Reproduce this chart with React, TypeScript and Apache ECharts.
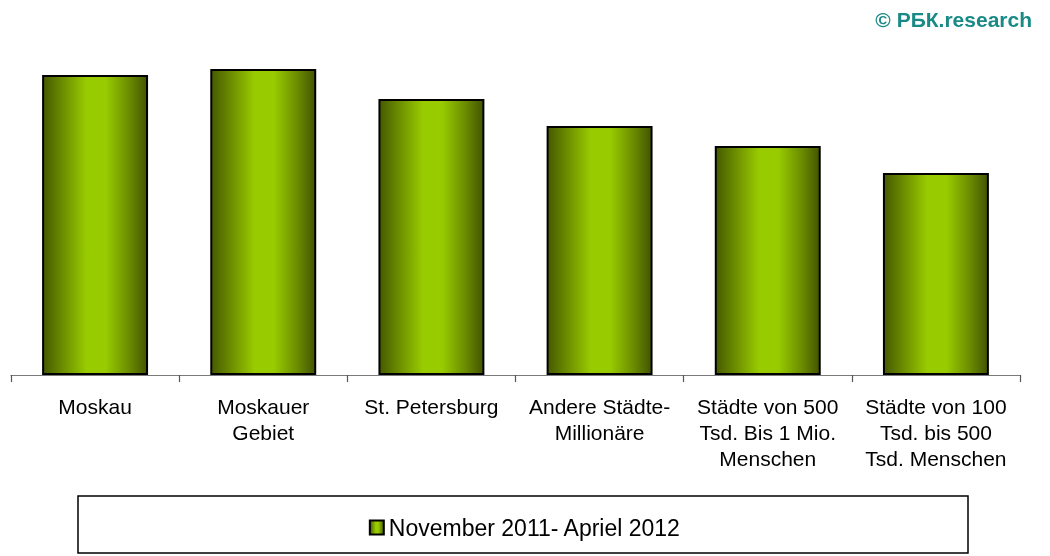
import React, { useEffect, useRef } from "react";
import * as echarts from "echarts";

const categories = [
  "Moskau",
  "Moskauer\nGebiet",
  "St. Petersburg",
  "Andere Städte-\nMillionäre",
  "Städte von 500\nTsd. Bis 1 Mio.\nMenschen",
  "Städte von 100\nTsd. bis 500\nTsd. Menschen",
];
const seriesName = "November 2011- Apriel 2012";
const values = [30.0, 30.6, 27.6, 24.9, 22.9, 20.2];

const FONT = "'Liberation Sans', Arial, sans-serif";

const barGradient = () =>
  new echarts.graphic.LinearGradient(0, 0, 1, 0, [
    { offset: 0, color: "#465a00" },
    { offset: 0.2, color: "#6e9000" },
    { offset: 0.42, color: "#99cc00" },
    { offset: 0.6, color: "#99cc00" },
    { offset: 0.84, color: "#688800" },
    { offset: 1, color: "#435400" },
  ]);

export default function App() {
  const ref = useRef<HTMLDivElement>(null);
  useEffect(() => {
    if (!ref.current) return;
    const chart = echarts.init(ref.current, null, { renderer: "svg" });
    chart.setOption({
      animation: false,
      textStyle: { fontFamily: FONT },
      grid: { left: 11, right: 30, top: 25, height: 350 },
      xAxis: {
        type: "category",
        data: categories,
        axisLine: { lineStyle: { color: "#7a7a7a", width: 1.2 } },
        axisTick: { show: true, length: 7, lineStyle: { color: "#555", width: 1.2 } },
        axisLabel: {
          color: "#000",
          fontSize: 21,
          lineHeight: 26,
          margin: 18,
          interval: 0,
          align: "center",
          fontFamily: FONT,
        },
      },
      yAxis: {
        type: "value",
        min: 0,
        max: 35,
        show: false,
        splitLine: { show: false },
      },
      legend: {
        show: true,
        left: "center",
        top: 511,
        icon: "rect",
        itemWidth: 14,
        itemHeight: 14,
        itemGap: 4,
        textStyle: { fontSize: 23, color: "#000", fontFamily: FONT },
        data: [
          {
            name: seriesName,
            itemStyle: { color: barGradient(), borderColor: "#000", borderWidth: 2 },
          },
        ],
      },
      graphic: [
        {
          type: "rect",
          shape: { x: 78, y: 496, width: 890, height: 57 },
          style: { fill: "none", stroke: "#000", lineWidth: 1.5 },
          z: -1,
        },
        {
          type: "text",
          right: 18,
          top: 9,
          style: {
            text: "© РБК.research",
            fill: "#1a8a87",
            font: "bold 21px 'Liberation Sans', Arial, sans-serif",
          },
        },
      ],
      series: [
        {
          name: seriesName,
          type: "bar",
          data: values,
          barWidth: "63%",
          itemStyle: {
            color: barGradient(),
            borderColor: "#000",
            borderWidth: 2,
          },
        },
      ],
    });
    return () => chart.dispose();
  }, []);
  return (
    <div
      ref={ref}
      style={{ position: "fixed", left: 0, top: 0, width: 1050, height: 556 }}
    />
  );
}
